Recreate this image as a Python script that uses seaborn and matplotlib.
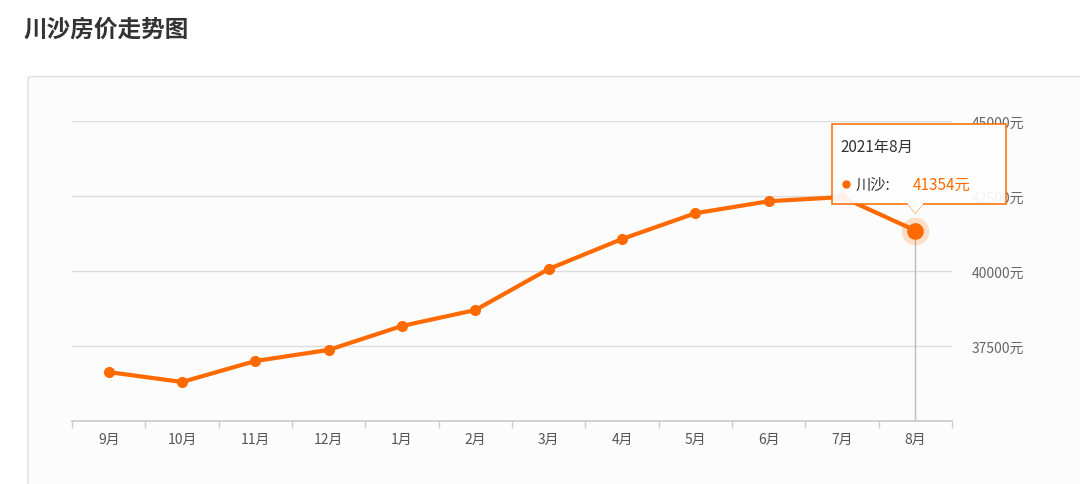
import matplotlib
matplotlib.use("Agg")
import matplotlib.pyplot as plt
import seaborn as sns
import pandas as pd
from matplotlib.patches import FancyBboxPatch, Rectangle

months = ["9月","10月","11月","12月","1月","2月","3月","4月","5月","6月","7月","8月"]
prices = [36630, 36300, 37000, 37370, 38170, 38700, 40070, 41070, 41930, 42330, 42470, 41354]
yticks = [37500, 40000, 42500, 45000]

sns.set_theme(style="white")
plt.rcParams['font.family'] = ['Noto Sans CJK SC', 'DejaVu Sans']

fig = plt.figure(figsize=(10.8, 4.85), dpi=100)
fig.patch.set_facecolor("white")
fig.text(0.022, 0.925, "川沙房价走势图", fontsize=17, fontweight="bold", color="#333333")
bg = FancyBboxPatch((0.026, -0.05), 1.0, 0.89, boxstyle="round,pad=0,rounding_size=0.005",
                    transform=fig.transFigure, facecolor="#fcfcfc", edgecolor="#dddddd", lw=1, zorder=-10)
fig.patches.append(bg)

ax = fig.add_axes([0.0667, 0.130, 0.8148, 0.618])
ax.set_zorder(5)
ax.set_facecolor("none")
ax.patch.set_alpha(0)
df = pd.DataFrame({"m": range(len(months)), "p": prices})
sns.lineplot(data=df, x="m", y="p", ax=ax, color="#ff6a00", lw=3, marker="o", markersize=8,
             markeredgewidth=0, zorder=3)
ax.set_xlim(-0.5, 11.5)
ax.set_ylim(35000, 45000)
ax.set_yticks(yticks)
ax.set_yticklabels([f"{v}元" for v in yticks], color="#666666", fontsize=10)
ax.yaxis.tick_right()
ax.tick_params(axis="y", length=0, pad=14)
ax.set_xticks(range(len(months)))
ax.set_xticklabels(months, color="#555555", fontsize=10)
ax.set_xticks([i - 0.5 for i in range(13)], minor=True)
ax.tick_params(axis="x", which="major", length=0, pad=8)
ax.tick_params(axis="x", which="minor", length=5, color="#cccccc", direction="out", bottom=True)
ax.grid(axis="y", color="#dddddd", lw=1)
for s in ["top", "left", "right"]:
    ax.spines[s].set_visible(False)
ax.spines["bottom"].set_color("#cccccc")
ax.set_xlabel(""); ax.set_ylabel("")

# hover marker
ax.axvline(11, ymin=0, ymax=(prices[-1]-35000)/10000, color="#bbbbbb", lw=1, zorder=1)
ax.plot([11], [prices[-1]], "o", ms=20, color="#ff6a00", alpha=0.2, zorder=4, mew=0)
ax.plot([11], [prices[-1]], "o", ms=12, color="#ff6a00", zorder=5, mew=0)

# tooltip
tx0, tx1 = 9.86, 12.23
ty0, ty1 = 42250, 44900
tip = Rectangle((tx0, ty0), tx1 - tx0, ty1 - ty0, facecolor="white", edgecolor="#ff6a00",
                alpha=0.92, lw=1.2, zorder=6, clip_on=False)
ax.add_patch(tip)
ax.plot([10.9, 11, 11.1], [ty0, 41950, ty0], color="#ff6a00", lw=1.2, zorder=7, clip_on=False)
ax.fill([10.9, 11, 11.1], [ty0 + 10, 41960, ty0 + 10], color="white", zorder=7, clip_on=False)
ax.text(9.98, 44150, "2021年8月", fontsize=11, color="#333333", zorder=8, va="center")
ax.plot([10.06], [42910], "o", ms=5, color="#ff6a00", zorder=8, clip_on=False)
ax.text(10.18, 42910, "川沙:", fontsize=11, color="#333333", zorder=8, va="center")
ax.text(10.96, 42910, "41354元", fontsize=11, color="#ff6a00", zorder=8, va="center")

fig.savefig("out.png", dpi=100)
